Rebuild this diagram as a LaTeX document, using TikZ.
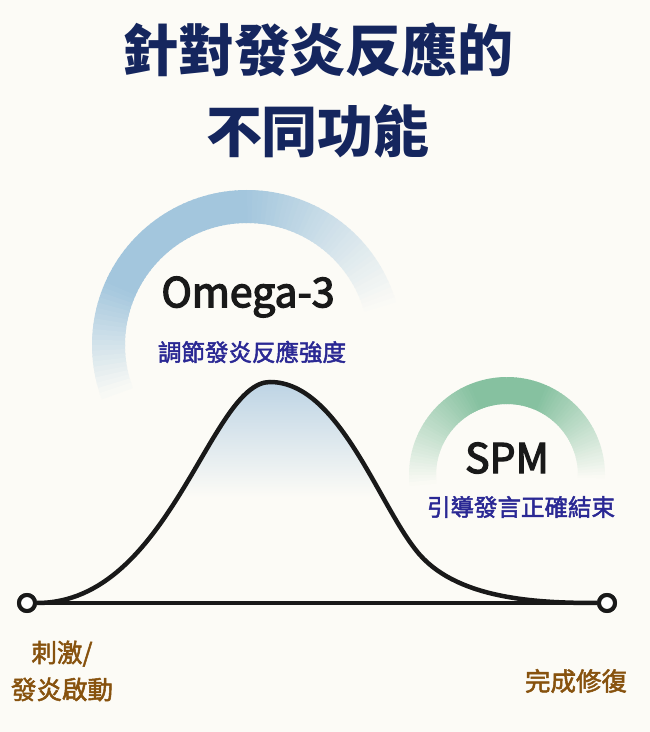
\documentclass[tikz,border=0pt]{standalone}
\usepackage{fontspec}
\setmainfont{Noto Sans CJK TC}
\newfontfamily\medfont{Noto Sans CJK TC}[FakeBold=3.2]
\newfontfamily\semifont{Noto Sans CJK TC}[FakeBold=2]
\usetikzlibrary{positioning}

\definecolor{bg}{HTML}{FCFBF6}
\definecolor{titlenavy}{HTML}{15265E}
\definecolor{fnindigo}{HTML}{2A2894}
\definecolor{stagebrown}{HTML}{87520E}
\definecolor{omegablue}{HTML}{A3C6DD}
\definecolor{spmgreen}{HTML}{86C1A0}
\definecolor{peakblue}{HTML}{BCD3E4}

\begin{document}
\begin{tikzpicture}[x=1pt,y=1pt,
title/.style={text=titlenavy,align=center,
  font=\fontsize{56}{81}\selectfont\bfseries},
agent/.style={text=black!90,font=\fontsize{41}{45}\selectfont\medfont},
fn/.style={text=fnindigo,font=\fontsize{23.5}{28}\selectfont\semifont},
stage/.style={text=stagebrown,align=center,
  font=\fontsize{25.5}{37}\selectfont\semifont},
endpt/.style={circle,draw=black!90,fill=white,line width=4pt,
  minimum size=16pt,inner sep=0pt},
curve/.style={draw=black!90,line width=4.5pt},
axis/.style={draw=black!90,line width=4pt}
]

\fill[bg] (0,0) rectangle (650,732);
\useasboundingbox (0,0) rectangle (650,732);

\node (title) [title] at (318,642) {針對發炎反應的\\不同功能};

% halo arcs
\coordinate (oc) at (247,387);
\coordinate (sc) at (507,257);
\foreach \a in {8,10,...,198} {
  \pgfmathtruncatemacro\k{100*max(0,min(1,(\a-14)/75,(200-\a)/45))}
  \draw[omegablue!\k!bg,line width=33pt] (oc) ++(\a:138.5)
    arc[start angle=\a,end angle=\a+2.6,radius=138.5];
}
\foreach \a in {-4,-2,...,184} {
  \pgfmathtruncatemacro\k{100*max(0,min(1,(\a+4)/70,(186-\a)/75))}
  \draw[spmgreen!\k!bg,line width=27pt] (sc) ++(\a:84.5)
    arc[start angle=\a,end angle=\a+2.6,radius=84.5];
}

\node (omega) [agent] at (248,435) {Omega-3};
\node (omegafn) [fn] at (252,380) {調節發炎反應強度};
\node (spm) [agent] at (507,274) {SPM};
\node (spmfn) [fn] at (521,225) {引導發言正確結束};

% response curve
\coordinate (peak) at (270,350);
\coordinate (knee) at (420,177);
\node (start) [endpt] at (27,129) {};
\node (finish) [endpt] at (607,129) {};

\begin{scope}
\clip (start.center) .. controls (170,129) and (210,350) .. (peak)
  .. controls (340,350) and (380,222) .. (knee)
  .. controls (460,132) and (540,129) .. (finish.center) -- cycle;
\shade[top color=peakblue,bottom color=bg] (120,352) rectangle (440,235);
\end{scope}

\draw[axis] (start) -- (finish);
\draw[curve] (start) .. controls (170,129) and (210,350) .. (peak)
  .. controls (340,350) and (380,222) .. (knee)
  .. controls (460,132) and (540,129) .. (finish);
\node[endpt] at (start) {};
\node[endpt] at (finish) {};

\node (onset) [stage] at (62,61) {刺激/\\發炎啟動};
\node (repair) [stage] at (576,51) {完成修復};

\end{tikzpicture}
\end{document}
